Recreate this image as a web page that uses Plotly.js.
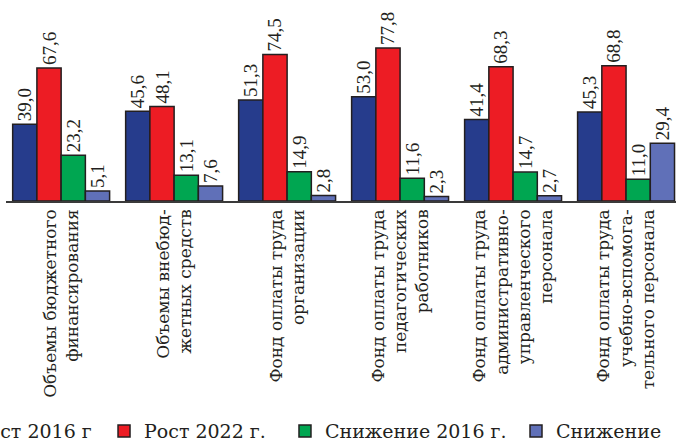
<!DOCTYPE html>
<html>
<head>
<meta charset="utf-8">
<script src="https://cdn.plot.ly/plotly-3.0.1.min.js"></script>
<style>
  html, body { margin: 0; padding: 0; background: #ffffff; overflow: hidden; }
  #chart { width: 676px; height: 443px; }
</style>
</head>
<body>
<div id="chart"></div>
<script>
// ---- Data ----
const categories = [
  "Объемы бюджетного<br>финансирования",
  "Объемы внебюд-<br>жетных средств",
  "Фонд оплаты труда<br>организации",
  "Фонд оплаты труда<br>педагогических<br>работников",
  "Фонд оплаты труда<br>административно-<br>управленческого<br>персонала",
  "Фонд оплаты труда<br>учебно-вспомога-<br>тельного персонала"
];
const seriesNames = ["Рост 2016 г", "Рост 2022 г.", "Снижение 2016 г.", "Снижение"];
const growth2016 = [39.0, 45.6, 51.3, 53.0, 41.4, 45.3];
const growth2022 = [67.6, 48.1, 74.5, 77.8, 68.3, 68.8];
const decline2016 = [23.2, 13.1, 14.9, 11.6, 14.7, 11.0];
const decline2022 = [5.1, 7.6, 2.8, 2.3, 2.7, 29.4];

// ---- Styling ----
const SERIF_WIDE = "DejaVu Serif, serif";
const SERIF_NARROW = "Liberation Serif, serif";
const INK = "#231F20";
const colors = ["#263C8C", "#ED1C24", "#00A651", "#6070B8"];
const values = [growth2016, growth2022, decline2016, decline2022];
const legendIds = ["legend", "legend2", "legend3", "legend4"];
const legendX = [-0.1045, 0.1463, 0.4164, 0.7612];

const traces = values.map((vals, i) => ({
  type: "bar",
  name: seriesNames[i],
  x: categories,
  y: vals,
  legend: legendIds[i],
  marker: { color: colors[i], line: { color: INK, width: 1.5 } },
  texttemplate: "%{y:.1f}",
  textposition: "outside",
  textangle: -90,
  constraintext: "none",
  cliponaxis: false,
  textfont: { family: SERIF_NARROW, size: 19, color: INK },
  hoverinfo: "none"
}));

const layout = {
  width: 676,
  height: 443,
  margin: { l: 6, r: 0, t: 0, b: 242, autoexpand: false },
  paper_bgcolor: "#ffffff",
  plot_bgcolor: "#ffffff",
  separators: ", ",
  barmode: "group",
  bargap: 0.142,
  bargroupgap: 0,
  showlegend: true,
  xaxis: {
    type: "category",
    range: [-0.488, 5.442],
    tickangle: -90,
    showline: true,
    linecolor: "#3a3a3a",
    linewidth: 1.5,
    ticks: "",
    showgrid: false,
    zeroline: false,
    tickfont: { family: SERIF_WIDE, size: 17, color: INK },
    fixedrange: true
  },
  yaxis: {
    range: [0, 102.2],
    visible: false,
    showgrid: false,
    zeroline: false,
    fixedrange: true
  }
};

legendIds.forEach((id, i) => {
  layout[id] = {
    orientation: "h",
    yanchor: "middle",
    xanchor: "left",
    x: legendX[i],
    y: -1.145,
    bgcolor: "rgba(0,0,0,0)",
    borderwidth: 0,
    font: { family: SERIF_WIDE, size: 19, color: INK }
  };
});

Plotly.newPlot("chart", traces, layout, { displayModeBar: false, staticPlot: true });
</script>
</body>
</html>
